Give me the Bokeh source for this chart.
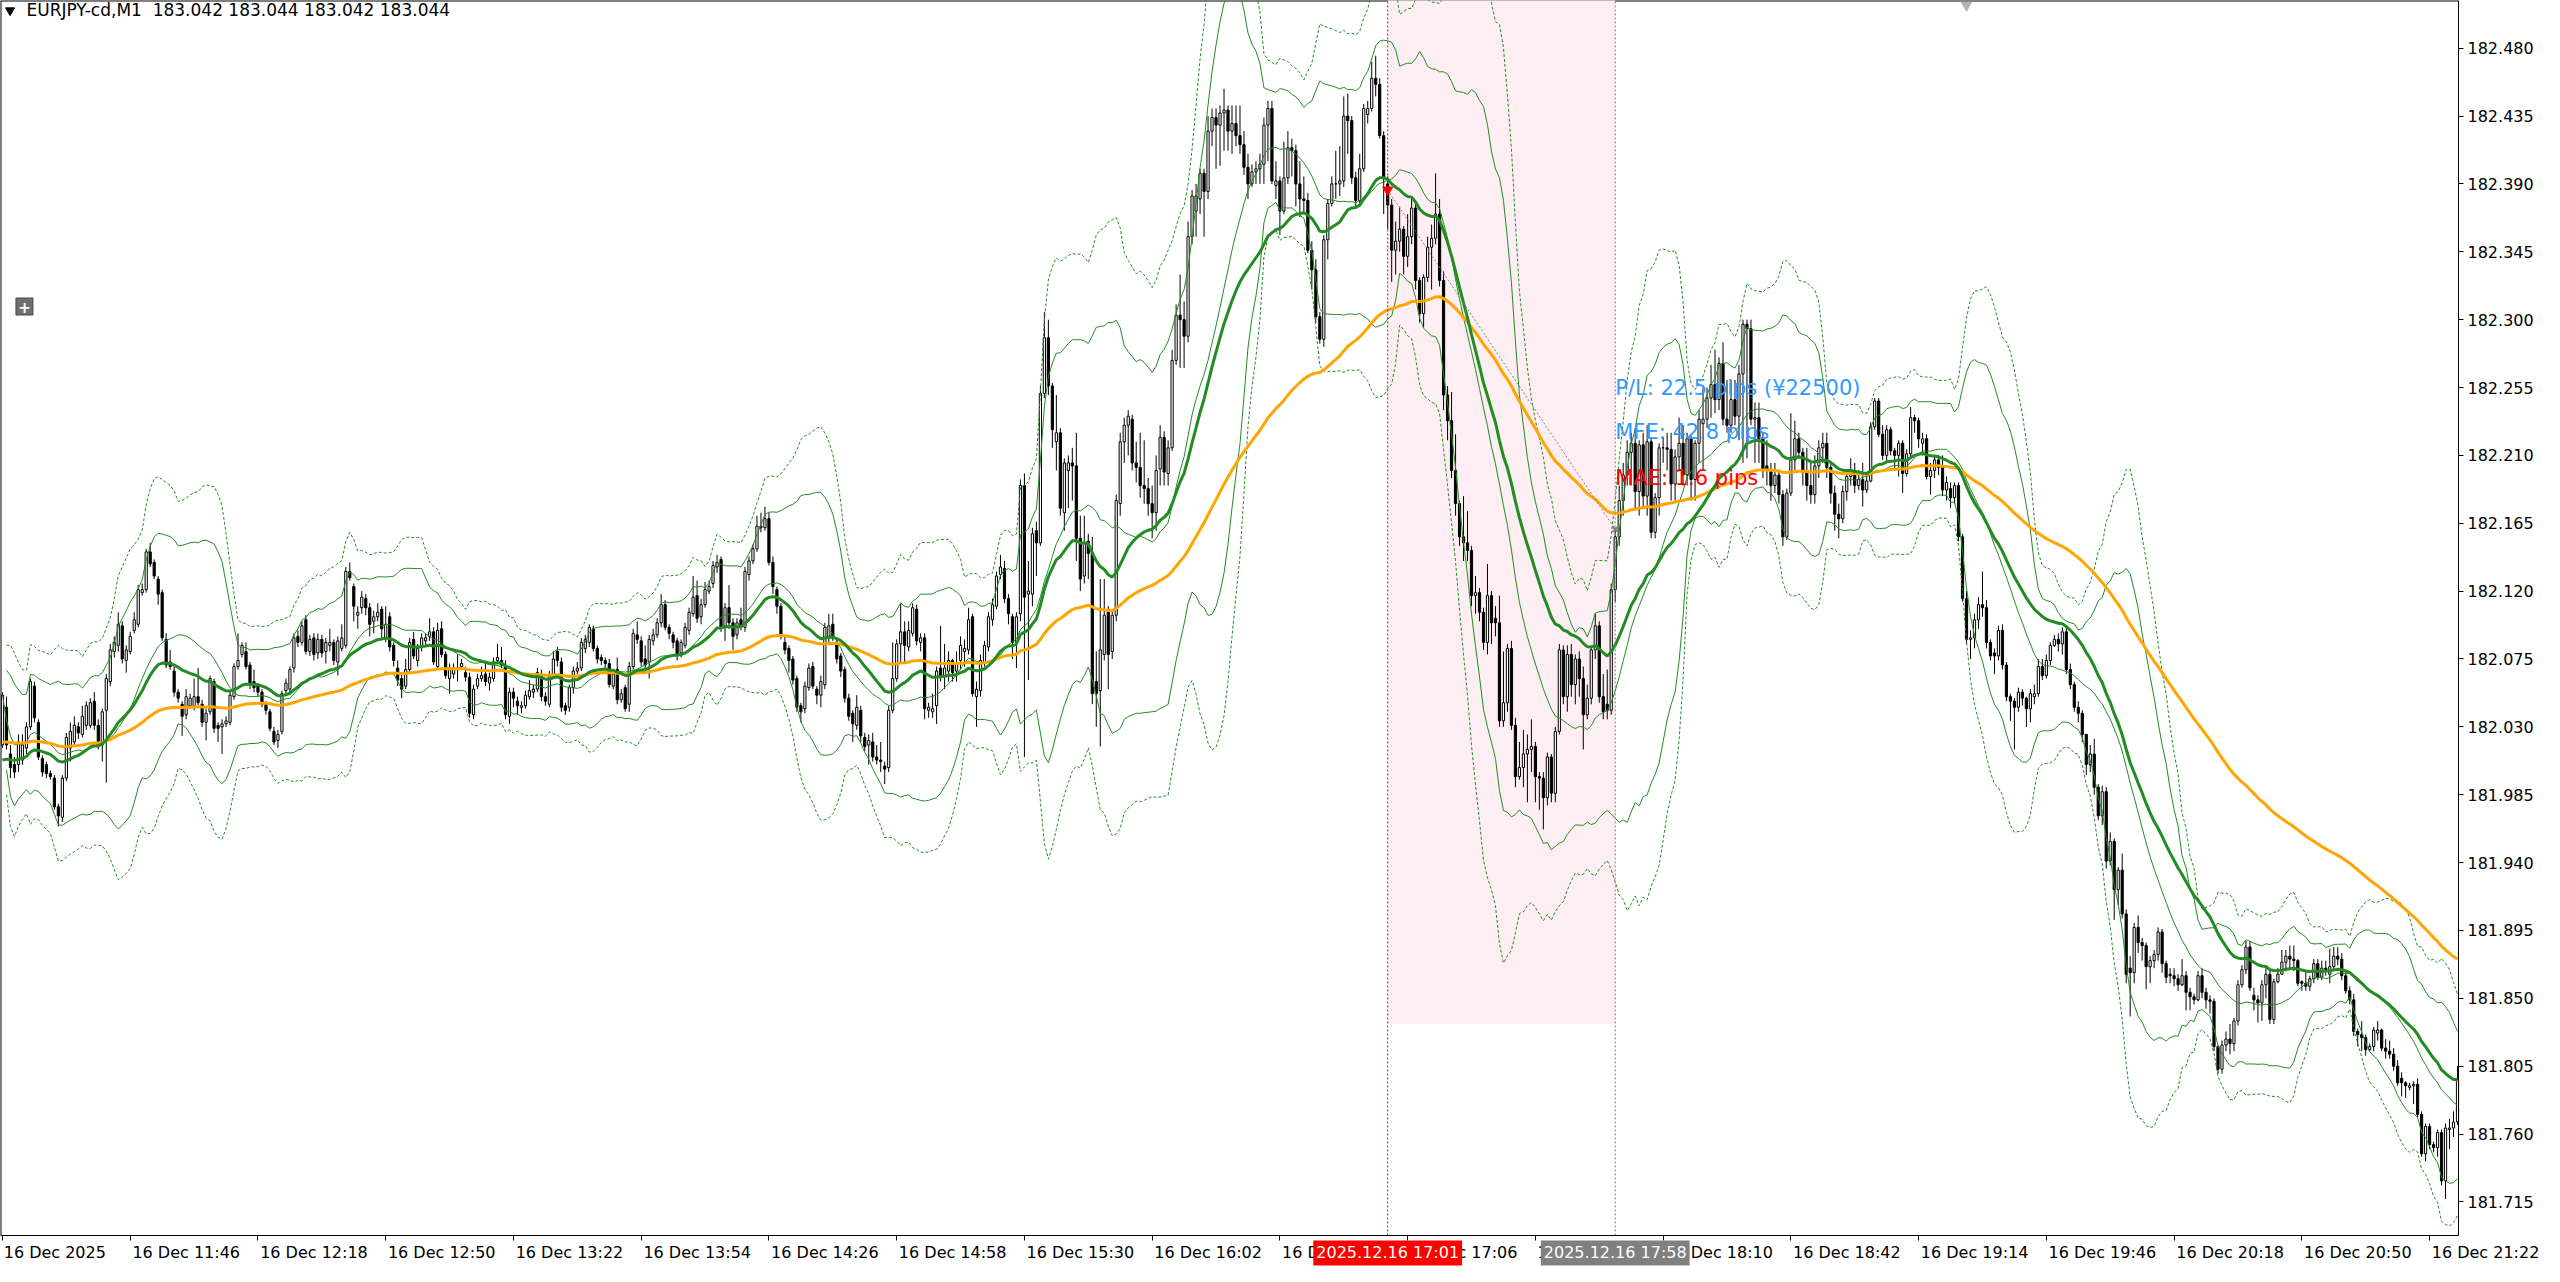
import numpy as np
import pandas as pd
from bokeh.plotting import figure
from bokeh.models import Range1d, FixedTicker, PrintfTickFormatter, Label, AllLabels, ColumnDataSource
from bokeh.core.properties import value
from bokeh.embed import file_html
from bokeh.resources import INLINE

# ---------------- data (EURJPY M1, 16 Dec 2025, bars from 11:14) ----------------
# prices are given in points of 0.001 above BASE
BASE = 181.700

open_pts = [
318,343,312,305,305,308,316,330,357,333,309,305,299,296,277,270,296,316,320,330,
325,331,331,347,331,318,341,360,380,384,397,374,380,394,398,419,421,446,439,428,
419,388,373,367,353,345,338,344,344,350,345,333,340,360,331,330,332,333,350,370,
378,380,371,360,357,353,345,340,327,321,327,354,355,369,390,386,401,380,389,379,
388,380,384,386,373,382,384,433,423,404,409,415,409,400,403,408,389,403,384,369,
362,357,368,388,374,383,387,390,393,370,395,378,362,365,368,370,366,363,338,357,
362,365,359,362,374,374,371,337,353,347,343,344,350,353,355,364,350,345,364,380,
373,344,343,356,367,369,382,386,395,382,376,374,372,357,368,348,356,345,370,391,
387,375,373,387,391,399,411,396,391,387,379,384,394,405,417,403,411,420,425,436,
441,396,409,399,391,401,396,431,440,448,462,462,468,439,421,410,386,382,375,362,
344,342,356,370,355,351,358,390,398,386,377,368,349,339,331,341,323,318,320,310,
308,304,303,341,362,385,393,383,392,408,386,389,341,340,344,369,364,367,374,367,
374,380,381,403,350,354,372,383,401,410,431,435,415,403,386,405,490,418,418,460,
452,551,588,556,519,525,472,500,505,503,455,430,453,445,360,354,378,406,380,404,
478,519,530,534,505,502,490,488,478,472,501,522,498,515,573,603,600,589,655,672,
680,697,685,725,734,729,737,739,725,730,722,716,701,690,698,700,703,729,740,689,
692,672,694,714,712,690,680,679,646,633,602,587,653,677,690,690,692,735,732,694,
679,700,736,740,760,756,722,690,676,646,652,660,642,655,674,626,604,628,648,654,
670,626,550,533,500,478,456,452,447,417,419,406,386,417,402,399,334,346,382,331,
297,303,312,315,317,297,296,283,310,286,327,381,350,378,358,375,362,338,349,381,
397,350,345,341,421,456,480,497,512,518,486,517,483,519,459,482,515,515,514,491,
509,518,497,521,494,518,531,534,548,557,547,571,534,530,547,536,564,597,594,534,
535,521,503,500,490,497,484,456,485,507,521,512,499,490,484,503,515,518,502,485,
471,468,486,496,500,490,494,487,493,529,546,524,510,527,513,510,518,498,511,535,
533,518,521,496,500,507,502,487,488,482,490,456,415,388,389,401,411,409,386,379,
377,394,371,350,347,343,353,349,342,350,352,370,364,374,384,388,385,393,368,358,
343,339,325,305,312,290,271,287,241,254,222,235,206,170,167,197,187,185,171,175,
179,194,173,166,165,163,159,165,154,151,149,165,154,149,148,118,103,119,123,120,
135,159,169,184,152,149,147,159,166,136,161,166,174,178,176,175,161,160,158,163,
173,164,170,166,171,178,176,165,155,149,128,126,124,116,118,127,129,117,115,113,
105,97,94,91,92,93,73,47,65,53,51,61,29,63,64,68]

high_pts = [
353,350,318,310,325,325,333,362,360,335,311,307,301,298,279,298,326,333,337,333,
344,347,349,353,335,342,365,385,390,406,400,384,393,406,424,425,448,452,441,430,
421,392,381,370,355,347,355,352,362,369,348,342,364,362,333,335,337,354,372,392,
386,386,373,368,359,355,347,342,330,328,354,362,370,392,394,400,404,391,392,392,
391,389,395,388,390,398,436,439,425,410,420,418,412,407,412,410,410,406,386,374,
366,375,389,393,385,392,392,402,396,399,400,380,372,372,378,375,370,366,358,365,
370,374,366,376,385,383,374,356,356,350,347,354,361,358,369,368,353,367,380,383,
376,346,358,370,373,389,391,398,397,384,378,376,375,368,376,355,358,373,395,400,
390,384,391,395,402,418,414,398,393,389,388,399,409,430,427,415,426,427,440,444,
443,412,424,402,402,409,436,443,451,470,472,476,472,443,423,412,390,384,377,364,
346,360,372,373,357,364,399,405,405,388,379,370,352,341,351,344,326,325,326,318,
320,307,344,386,388,412,400,400,412,411,392,392,346,352,370,397,385,380,375,380,
390,388,409,405,360,378,387,406,415,433,444,440,418,405,406,494,498,440,462,466,
556,605,600,558,550,528,508,510,515,525,470,470,458,456,380,428,428,410,408,484,
525,535,540,537,519,525,520,495,490,510,530,526,520,580,610,630,612,665,686,690,
700,700,735,740,740,742,753,742,742,742,742,725,710,703,705,710,734,745,745,705,
695,718,725,720,716,705,695,684,652,640,605,656,680,695,712,715,748,750,735,698,
710,743,745,771,775,760,725,695,680,665,675,662,670,680,678,628,630,655,663,697,
680,632,556,552,524,480,483,473,450,430,422,409,438,420,410,417,380,385,387,336,
320,328,325,335,320,300,300,313,312,330,385,384,384,385,378,380,370,358,384,405,
400,365,368,425,460,490,505,520,525,528,520,525,530,521,485,518,522,525,525,514,
535,530,525,523,520,540,555,555,570,580,575,585,560,560,560,570,600,600,600,545,
545,525,520,505,505,500,487,488,538,533,525,515,515,505,510,520,525,525,505,490,
478,490,500,508,505,500,505,498,532,548,548,530,530,529,515,520,520,514,542,537,
535,525,524,505,510,510,510,496,492,492,492,458,420,394,405,416,433,414,388,382,
397,398,373,352,349,356,355,350,355,358,375,375,378,386,391,392,396,396,372,360,
347,341,325,318,322,292,291,290,260,256,237,246,209,178,200,205,190,187,178,182,
197,196,175,170,170,166,176,168,157,153,168,170,157,152,150,119,122,128,133,137,
162,172,188,188,157,152,162,170,170,163,170,182,182,185,185,176,162,168,165,176,
176,175,175,183,184,184,180,168,158,153,130,135,126,120,131,135,130,123,122,117,
109,101,95,94,95,97,75,67,67,55,63,63,67,70,75,105]

low_pts = [
316,315,296,296,300,305,312,328,333,308,297,296,295,275,264,267,294,307,318,322,
323,328,329,328,315,307,293,357,376,380,372,366,378,392,396,417,419,436,428,411,
387,369,368,350,346,324,335,342,341,344,330,321,338,326,320,312,330,331,348,368,
376,368,355,353,350,343,338,327,318,316,325,352,352,366,383,384,378,377,374,375,
376,372,380,371,364,380,382,427,400,395,405,404,390,392,400,388,386,380,370,357,
349,355,366,375,370,380,384,387,371,368,376,362,352,362,360,368,360,336,335,355,
360,357,354,360,372,369,335,332,343,338,339,342,348,349,353,347,344,343,362,370,
340,338,340,352,365,367,379,383,380,372,371,369,356,355,345,346,340,340,368,385,
370,368,362,384,389,396,394,388,382,374,376,382,391,403,399,398,409,418,422,432,
393,387,395,381,388,394,393,427,438,446,459,460,437,418,405,388,378,366,358,340,
333,339,354,355,345,343,355,386,387,372,363,346,334,320,328,320,314,305,307,305,
300,292,300,339,360,372,372,380,390,384,380,335,336,336,332,360,355,360,360,360,
368,370,378,350,330,350,370,380,397,408,428,412,398,375,369,400,310,361,410,430,
450,548,550,515,500,470,460,475,480,440,420,425,428,345,330,317,374,355,375,400,
470,505,510,500,492,482,478,470,455,460,490,490,490,513,570,568,568,585,650,655,
670,655,680,715,700,702,712,712,710,715,710,696,680,688,690,690,690,705,690,680,
656,670,690,695,675,668,670,644,620,598,584,582,640,675,680,682,688,710,690,675,
676,698,730,738,748,720,670,660,625,630,645,630,635,650,620,598,595,625,620,650,
622,540,520,495,470,450,440,440,410,405,400,381,378,385,390,330,330,340,328,290,
295,290,280,300,280,275,262,278,280,280,325,345,340,350,345,350,315,335,345,375,
346,335,335,338,413,450,470,490,490,475,470,475,470,455,455,470,505,500,480,480,
500,490,490,480,480,505,500,528,535,538,540,530,525,525,530,520,505,508,530,505,
505,495,490,480,485,478,450,454,483,500,508,490,480,478,478,495,505,495,478,460,
455,465,480,490,485,487,476,485,492,527,522,507,505,510,500,496,485,496,509,525,
515,510,494,484,495,497,483,480,475,478,453,413,385,375,382,395,403,382,374,365,
374,368,347,334,315,340,344,330,333,345,350,361,362,371,383,380,378,365,355,340,
333,320,298,300,285,268,265,236,238,202,212,203,160,138,160,180,175,156,160,170,
175,167,160,160,158,155,158,142,142,146,148,150,143,140,115,100,100,115,113,115,
132,157,166,155,142,134,135,150,133,133,160,166,168,170,168,158,155,155,155,160,
162,162,165,160,168,172,162,153,146,125,118,115,112,115,115,122,115,110,110,102,
92,85,84,89,80,71,45,42,50,48,45,26,17,50,58,66]

close_pts = [
351,318,303,300,320,318,330,360,336,310,300,299,297,277,271,296,323,327,331,326,
337,344,346,331,318,340,362,381,386,398,375,381,390,401,421,421,446,438,430,418,
389,371,370,353,349,337,350,349,350,346,333,339,362,329,329,332,334,351,370,374,
384,370,358,356,353,345,341,329,320,325,352,359,368,389,386,397,380,388,378,388,
379,386,386,374,387,389,433,429,410,406,416,409,398,403,406,395,398,383,374,361,
355,368,386,377,382,389,389,393,373,394,378,364,369,369,369,372,363,339,355,362,
364,360,363,373,376,371,338,353,349,344,344,351,354,355,366,350,347,364,375,374,
343,341,356,367,369,386,388,396,382,375,374,372,358,365,348,352,342,370,392,388,
373,371,388,391,399,411,396,392,386,378,386,396,406,416,402,411,421,423,437,439,
396,409,399,390,399,397,433,440,448,463,463,468,439,423,410,390,381,374,361,343,
340,357,369,357,351,360,396,397,390,375,367,349,337,332,343,324,317,321,310,308,
307,302,341,362,385,393,384,394,409,387,389,342,343,342,367,364,369,374,366,372,
384,382,401,352,355,374,384,403,411,430,436,415,405,386,403,490,416,420,458,452,
551,588,556,527,525,475,505,505,503,455,428,452,445,352,352,381,404,378,404,480,
519,530,536,505,502,490,488,478,472,500,522,499,515,573,603,600,589,655,682,682,
697,685,725,734,729,737,739,725,730,722,716,701,690,698,700,703,729,740,692,692,
672,694,714,712,690,680,679,646,633,602,587,653,677,690,690,692,735,732,694,679,
700,740,740,760,756,722,694,676,646,652,660,642,655,674,626,604,628,648,654,670,
626,550,533,500,478,456,452,447,417,419,406,386,417,399,399,334,346,382,331,297,
303,312,315,317,297,296,283,310,286,327,381,350,378,358,375,362,338,349,381,397,
350,340,341,421,456,480,497,512,518,486,517,483,519,459,482,515,515,514,491,509,
518,497,521,494,518,534,534,548,557,547,571,534,530,547,536,564,597,594,534,535,
521,500,500,490,497,484,456,485,507,521,512,499,490,484,503,515,518,502,485,471,
468,486,496,500,490,494,487,493,529,546,524,510,527,513,510,518,498,511,535,533,
521,521,496,500,507,502,487,492,482,490,456,415,388,389,401,411,409,386,377,377,
394,371,350,347,343,353,349,342,352,352,370,364,374,384,388,385,393,368,358,343,
339,325,305,312,290,271,287,241,254,222,235,206,166,167,197,187,185,171,175,179,
194,173,164,165,163,159,165,154,151,149,165,154,149,148,118,103,119,123,120,135,
159,169,184,157,149,147,159,166,136,161,166,174,178,176,175,160,160,158,163,173,
164,170,169,171,178,176,165,155,149,128,126,124,116,118,129,129,117,115,113,105,
94,94,92,92,93,73,47,65,53,51,61,29,64,64,68,96]

time_tick_bars = [0, 32, 64, 96, 128, 160, 192, 224, 256, 288,
                  320, 352, 384, 416, 448, 480, 512, 544, 576, 608]
time_tick_labels = ["16 Dec 2025", "16 Dec 11:46", "16 Dec 12:18", "16 Dec 12:50",
                    "16 Dec 13:22", "16 Dec 13:54", "16 Dec 14:26", "16 Dec 14:58",
                    "16 Dec 15:30", "16 Dec 16:02", "16 Dec 16:34", "16 Dec 17:06",
                    "16 Dec 17:38", "16 Dec 18:10", "16 Dec 18:42", "16 Dec 19:14",
                    "16 Dec 19:46", "16 Dec 20:18", "16 Dec 20:50", "16 Dec 21:22"]
price_ticks = [181.715, 181.760, 181.805, 181.850, 181.895, 181.940, 181.985, 182.030,
               182.075, 182.120, 182.165, 182.210, 182.255, 182.300, 182.345, 182.390,
               182.435, 182.480]

# trade (sell 17:01 -> close 17:58)
trade_bars = [347, 404]
trade_prices = [182.386, 182.161]
trade_labels = ["2025.12.16 17:01", "2025.12.16 17:58"]
trade_colors = ["#FF0000", "#808080"]
zone_low = 181.833
stats_text = ["P/L: 22.5 pips (\u00a522500)", "MFE: 42.8 pips", "MAE: 1.6 pips"]
stats_price = [182.2547, 182.2257, 182.1948]
stats_color = ["#3399FF", "#3399FF", "#FF0000"]

# indicator settings
BB_PERIOD = 20
FAST_SPAN, SLOW_SPAN = 32, 100
fast_seed, slow_seed = 182.008, 182.020     # line levels read at the first bar

# ---------------- derived ----------------
o = BASE + np.array(open_pts) / 1000.0
h = BASE + np.array(high_pts) / 1000.0
l = BASE + np.array(low_pts) / 1000.0
c = BASE + np.array(close_pts) / 1000.0
n = len(c)
idx = np.arange(n)

cs = pd.Series(c)
mid = cs.rolling(BB_PERIOD, min_periods=1).mean().values
sd = cs.rolling(BB_PERIOD, min_periods=2).std(ddof=0).values

def ema(vals, span, seed):
    a = 2.0 / (span + 1)
    out = np.empty(len(vals))
    out[0] = seed
    for k in range(1, len(vals)):
        out[k] = out[k - 1] + a * (vals[k] - out[k - 1])
    return out

fast = ema(c, FAST_SPAN, fast_seed)
slow = ema(c, SLOW_SPAN, slow_seed)

# chart window (price x bars) and the outer strips that hold the scales
CH_LOW, Y1 = 181.6928, 182.5116
Y0 = 181.6722
X0, XC = -0.5, 615.25
X1 = 636.79

p = figure(frame_width=2544, frame_height=1266, x_range=Range1d(X0, X1), y_range=Range1d(Y0, Y1),
           output_backend="svg", toolbar_location=None, title=None,
           y_axis_location="right", x_axis_location="below")
p.min_border_left = 0
p.min_border_top = 0
p.min_border_right = 0
p.min_border_bottom = 0
p.background_fill_color = "white"
p.border_fill_color = "white"
p.outline_line_color = None
p.xgrid.visible = False
p.ygrid.visible = False

FONT = "DejaVu Sans"
# price axis on the right edge of the chart
ya = p.yaxis[0]
ya.fixed_location = XC
ya.ticker = FixedTicker(ticks=price_ticks)
ya.formatter = PrintfTickFormatter(format="%.3f")
ya.bounds = (CH_LOW, Y1)
ya.axis_line_color = "black"
ya.major_tick_line_color = "black"
ya.major_tick_out = 5
ya.major_tick_in = 0
ya.minor_tick_line_color = None
ya.major_label_standoff = 4
ya.major_label_text_font = FONT
ya.major_label_text_font_size = "16px"
ya.major_label_text_color = "black"

# time axis at the bottom of the chart (labels start at their tick)
PAD = "\u2007" * 11
xa = p.xaxis[0]
xa.fixed_location = CH_LOW
xa.bounds = (X0, XC)
xa.ticker = FixedTicker(ticks=time_tick_bars)
xa.major_label_overrides = {b: ("\u2009" + t if k == 0 else PAD + t)
                            for k, (b, t) in enumerate(zip(time_tick_bars, time_tick_labels))}
xa.major_label_policy = AllLabels()
xa.axis_line_color = "black"
xa.major_tick_line_color = "black"
xa.major_tick_out = 5
xa.major_tick_in = 0
xa.minor_tick_line_color = None
xa.major_label_standoff = 3
xa.major_label_text_font = FONT
xa.major_label_text_font_size = "16px"
xa.major_label_text_color = "black"

# chart border (left and top)
p.segment(x0=[X0, X0], y0=[CH_LOW, Y1], x1=[X0, XC], y1=[Y1, Y1], line_color="black", line_width=2)

# trade zone
p.quad(left=[trade_bars[0]], right=[trade_bars[1]], bottom=[zone_low], top=[Y1 + 0.01],
       fill_color="#FDEEF3", line_color=None)

# candles
src = ColumnDataSource(dict(x=idx, h=h, l=l,
                            top=np.maximum(o, c), bottom=np.minimum(o, c),
                            fill=np.where(c >= o, "white", "black")))
p.segment(x0="x", y0="h", x1="x", y1="l", source=src, line_color="black", line_width=1)
p.vbar(x="x", width=0.55, top="top", bottom="bottom", fill_color="fill",
       line_color="black", line_width=1, source=src)

GREEN = "#228B22"
p.line(idx, mid + 3 * sd, line_color=GREEN, line_width=1, line_dash="3 2")
p.line(idx, mid - 3 * sd, line_color=GREEN, line_width=1, line_dash="3 2")
p.line(idx, mid + 2 * sd, line_color=GREEN, line_width=1)
p.line(idx, mid - 2 * sd, line_color=GREEN, line_width=1)
p.line(idx, mid, line_color=GREEN, line_width=1)
p.line(idx, slow, line_color="#FFA500", line_width=3)
p.line(idx, fast, line_color=GREEN, line_width=3)

# entry / exit
p.segment(x0=trade_bars, y0=[CH_LOW, CH_LOW], x1=trade_bars, y1=[Y1, Y1],
          line_color=trade_colors, line_dash="2 2", line_width=1)
p.line(trade_bars, trade_prices, line_color="#808080", line_width=1, line_dash="2 2")
p.scatter([trade_bars[0]], [trade_prices[0]], marker="inverted_triangle", size=10,
          fill_color="red", line_color="red")
p.scatter([trade_bars[1]], [trade_prices[1]], marker="x", size=8, line_color="#808080", line_width=2)

p.text(x=[trade_bars[1]] * 3, y=stats_price, text=stats_text, text_color=stats_color,
       text_font=value(FONT), text_font_size="21px", text_align="left", text_baseline="middle")

# header
HEAD_Y = 182.5050
p.scatter([1.9], [HEAD_Y], marker="inverted_triangle", size=9, fill_color="black", line_color="black")
p.text(x=[6], y=[HEAD_Y], text=["EURJPY-cd,M1\u00a0 183.042 183.044 183.042 183.044"],
       text_color="black", text_font=value(FONT), text_font_size="17px",
       text_align="left", text_baseline="middle")
# one-click button and shift marker
p.scatter([5.5], [182.3087], marker="square", size=17, fill_color="#6E6E6E", line_color="#4A4A4A")
p.text(x=[5.5], y=[182.3087], text=["+"], text_color="white", text_font=value(FONT),
       text_font_size="15px", text_font_style="bold", text_align="center", text_baseline="middle")
p.scatter([492], [182.5085], marker="inverted_triangle", size=12, fill_color="#B4B4B4", line_color=None)

# time stamps of the trade on the time scale
for b, t, col in zip(trade_bars, trade_labels, trade_colors):
    p.add_layout(Label(x=b, y=181.6812, text=t, text_align="center", text_baseline="middle",
                       text_color="white", text_font=FONT, text_font_size="16px",
                       background_fill_color=col, padding=3))

open("out.html", "w").write(file_html(p, INLINE))
